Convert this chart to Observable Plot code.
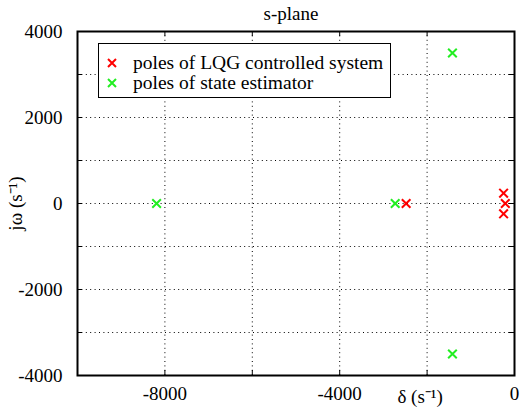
<!DOCTYPE html>
<html>
<head>
<meta charset="utf-8">
<script src="https://cdn.jsdelivr.net/npm/d3@7"></script>
<script src="https://cdn.jsdelivr.net/npm/@observablehq/plot@0.6"></script>
<style>
  html, body { margin: 0; padding: 0; background: white; }
  #wrap { position: relative; width: 520px; height: 415px; font-family: "Liberation Serif", "Times New Roman", serif; }
  #legend { position: absolute; left: 98px; top: 43px; width: 291px; height: 53px; border: 1px solid #000; background: #fff; font-size: 19.5px; }
  .item { position: absolute; left: 0; height: 20px; display: flex; align-items: center; white-space: nowrap; }
  .item svg { position: absolute; left: 8px; }
  .item span { position: absolute; left: 34px; line-height: 20px; }
</style>
</head>
<body>
<div id="wrap"><div id="legend"></div></div>
<script>
// Data
const seriesNames = ["poles of LQG controlled system", "poles of state estimator"];
const seriesColors = ["#ff0000", "#22ee22"];
const lqgRe = [-250, -210, -250, -2480];
const lqgIm = [240, 0, -240, 0];
const estRe = [-8190, -2730, -1420, -1420];
const estIm = [0, 0, 3500, -3500];
const xGrid = [-8000, -6000, -4000, -2000];
const yGrid = [-3000, -2000, -1000, 0, 1000, 2000, 3000];
const xTickLabels = [-8000, -4000, 0];
const yTickLabels = [-4000, -2000, 0, 2000, 4000];
const xLabelAt = [-2000];
const titleText = "s-plane";
const xLabel = "δ (s⁻¹)";
const yLabel = "jω (s⁻¹)";

const lqg = lqgRe.map((re, i) => ({re, im: lqgIm[i]}));
const est = estRe.map((re, i) => ({re, im: estIm[i]}));

const gridStyle = {stroke: "#000", strokeWidth: 1, strokeDasharray: "1,3.4"};
const tickStyle = {stroke: "#000", strokeWidth: 1};

const chart = Plot.plot({
  width: 520,
  height: 415,
  marginLeft: 77,
  marginRight: 6,
  marginTop: 31,
  marginBottom: 40,
  x: {domain: [-10000, 0], label: null},
  y: {domain: [-4000, 4000], label: null},
  style: {fontFamily: "'Liberation Serif', 'Times New Roman', serif", fontSize: "19px", background: "white", color: "black"},
  marks: [
    Plot.ruleX(xGrid, gridStyle),
    Plot.ruleY(yGrid, gridStyle),
    Plot.ruleX(xGrid, {...tickStyle, insetTop: 339}),
    Plot.ruleX(xGrid, {...tickStyle, insetBottom: 339}),
    Plot.ruleY(yGrid, {...tickStyle, insetRight: 432}),
    Plot.ruleY(yGrid, {...tickStyle, insetLeft: 432}),
    Plot.dot(lqg, {x: "re", y: "im", symbol: "times", r: 4, stroke: seriesColors[0], strokeWidth: 2}),
    Plot.dot(est, {x: "re", y: "im", symbol: "times", r: 4, stroke: seriesColors[1], strokeWidth: 2}),
    Plot.frame({stroke: "#000", strokeWidth: 2}),
    Plot.axisX(xTickLabels, {tickSize: 0, tickPadding: 11, tickFormat: d => `${d}`, label: null}),
    Plot.axisX(xLabelAt, {tickSize: 0, tickPadding: 14, tickFormat: () => xLabel, dx: -7, label: null}),
    Plot.axisY(yTickLabels, {tickSize: 0, tickPadding: 15, tickFormat: d => `${d}`, label: yLabel, labelAnchor: "center", labelOffset: 69, labelArrow: false}),
    Plot.text([titleText], {text: d => d, frameAnchor: "top", dy: -18, dx: -5, lineAnchor: "middle", fontSize: 19})
  ]
});
document.getElementById("wrap").prepend(chart);

// Legend
const legend = document.getElementById("legend");
seriesNames.forEach((name, i) => {
  const item = document.createElement("div");
  item.className = "item";
  item.style.top = (9 + i * 20) + "px";
  item.innerHTML = `<svg width="10" height="10" viewBox="-5 -5 10 10"><path d="M-4,-4L4,4M4,-4L-4,4" stroke="${seriesColors[i]}" stroke-width="2"/></svg><span>${name}</span>`;
  legend.appendChild(item);
});
</script>
</body>
</html>
